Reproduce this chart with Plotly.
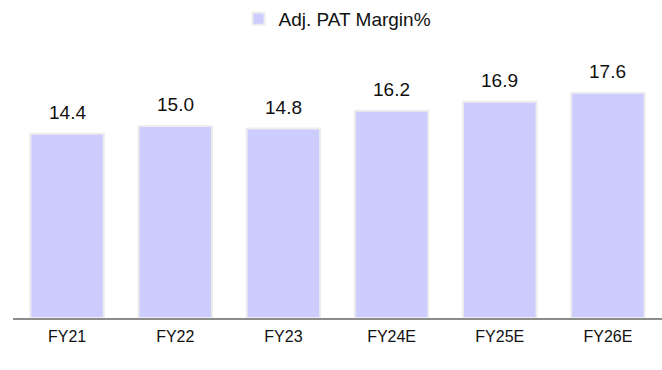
import plotly.graph_objects as go

categories = ["FY21", "FY22", "FY23", "FY24E", "FY25E", "FY26E"]
pat_margin = [14.4, 15.0, 14.8, 16.2, 16.9, 17.6]
series_name = "Adj. PAT Margin%"

FONT = "Liberation Sans, Arial, sans-serif"

fig = go.Figure()
fig.add_trace(go.Bar(
    x=categories,
    y=pat_margin,
    name=series_name,
    marker=dict(color="#CCCCFF", line=dict(color="#EDEDED", width=2)),
    width=0.68,
    showlegend=True,
))

# value labels above each bar
for c, v in zip(categories, pat_margin):
    fig.add_annotation(
        x=c, y=v, text=f"{v:.1f}", showarrow=False,
        yanchor="bottom", yshift=9,
        font=dict(family=FONT, size=19, color="#111111"),
    )

fig.update_layout(
    width=662, height=370,
    margin=dict(l=13, r=0, t=62, b=52),
    paper_bgcolor="white", plot_bgcolor="white",
    font=dict(family=FONT, size=16, color="#111111"),
    showlegend=True,
    legend=dict(
        orientation="h", x=0.5, xanchor="center",
        y=1.0, yanchor="top", yref="container",
        font=dict(family=FONT, size=19),
        itemwidth=30, borderwidth=0,
    ),
)
fig.update_xaxes(
    showline=True, linecolor="#8C8C8C", linewidth=1.5,
    ticks="", ticklabelstandoff=3,
    tickfont=dict(family=FONT, size=16, color="#111111"),
    showgrid=False,
)
fig.update_yaxes(
    range=[0, 20], visible=False, showgrid=False, zeroline=False,
)

fig.write_html("out.html")
